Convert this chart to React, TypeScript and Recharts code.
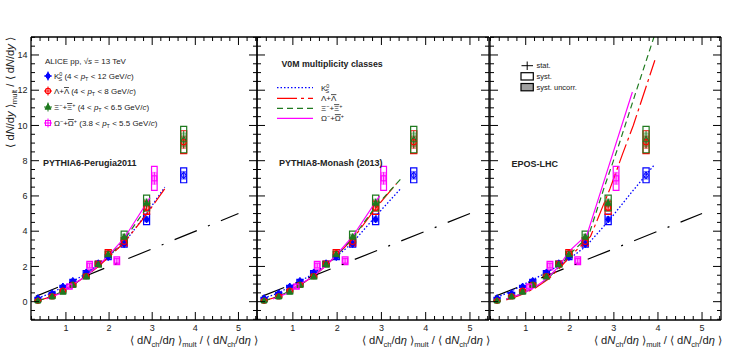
import React from 'react';
import {
  ComposedChart,
  Line,
  Scatter,
  XAxis,
  YAxis,
  ReferenceArea,
  ErrorBar,
} from 'recharts';

const FONT = '"Liberation Sans", Arial, Helvetica, sans-serif';

// ALICE data: V0M multiplicity classes (x = <dNch/deta>_mult / <dNch/deta>)
const mult = [0.35, 0.68, 0.93, 1.16, 1.47, 1.75, 1.98, 2.35, 2.87, 3.73];
const multOmega = [1.08, 1.55, 2.18, 3.05];

const k0sVal = [0.2, 0.48, 0.86, 1.18, 1.66, 2.18, 2.53, 3.27, 4.67, 7.17];
const k0sStat = [0.02, 0.02, 0.03, 0.03, 0.04, 0.05, 0.06, 0.08, 0.12, 0.2];
const k0sSys = [0.04, 0.05, 0.07, 0.08, 0.1, 0.12, 0.14, 0.17, 0.3, 0.42];
const k0sUnc = [0.02, 0.03, 0.04, 0.05, 0.06, 0.07, 0.08, 0.1, 0.15, 0.22];

const lamVal = [0.05, 0.3, 0.62, 0.95, 1.45, 2.15, 2.76, 3.4, 5.33, 9.05];
const lamStat = [0.02, 0.02, 0.03, 0.04, 0.05, 0.06, 0.08, 0.1, 0.18, 0.35];
const lamSys = [0.03, 0.05, 0.07, 0.08, 0.1, 0.15, 0.2, 0.23, 0.38, 0.65];
const lamUnc = [0.02, 0.03, 0.04, 0.05, 0.06, 0.08, 0.1, 0.12, 0.2, 0.35];

const xiVal = [0.05, 0.28, 0.55, 0.95, 1.42, 2.12, 2.68, 3.67, 5.6, 9.2];
const xiStat = [0.02, 0.03, 0.04, 0.05, 0.06, 0.08, 0.1, 0.15, 0.25, 0.5];
const xiSys = [0.05, 0.08, 0.1, 0.12, 0.13, 0.16, 0.18, 0.33, 0.45, 0.75];
const xiUnc = [0.03, 0.04, 0.05, 0.06, 0.07, 0.08, 0.09, 0.17, 0.22, 0.38];

const omVal = [0.86, 2.05, 2.32, 7.0];
const omStat = [0.08, 0.12, 0.15, 0.35];
const omSys = [0.13, 0.24, 0.22, 0.68];
const omUnc = [0.07, 0.12, 0.11, 0.34];

// y = x reference
const refX = [0.3, 5];
const refY = [0.3, 5];

// PYTHIA6-Perugia2011
const p6K0sX = [0.35, 0.68, 0.93, 1.16, 1.47, 1.75, 1.98, 2.35, 2.87, 3.29];
const p6K0sY = [0.2, 0.5, 0.85, 1.15, 1.6, 2.1, 2.55, 3.35, 5.0, 6.5];
const p6LamX = [0.35, 0.68, 0.93, 1.16, 1.47, 1.75, 1.98, 2.35, 2.87, 3.29];
const p6LamY = [0.05, 0.3, 0.6, 0.95, 1.45, 2.0, 2.5, 3.35, 4.95, 6.4];
const p6XiX = [0.35, 0.68, 0.93, 1.16, 1.47, 1.75, 1.98, 2.35, 2.95];
const p6XiY = [0.05, 0.3, 0.6, 0.95, 1.45, 2.05, 2.55, 3.5, 5.6];
const p6OmX = [0.55, 0.85, 1.08, 1.47, 1.75, 1.98, 2.35, 2.95];
const p6OmY = [0.15, 0.45, 0.85, 1.45, 2.05, 2.6, 3.6, 5.9];

// PYTHIA8-Monash (2013)
const p8K0sX = [0.35, 0.68, 0.93, 1.16, 1.47, 1.75, 1.98, 2.35, 2.87, 3.43];
const p8K0sY = [0.2, 0.5, 0.85, 1.15, 1.6, 2.1, 2.55, 3.35, 4.85, 6.4];
const p8LamX = [0.35, 0.68, 0.93, 1.16, 1.47, 1.75, 1.98, 2.35, 2.87, 3.34];
const p8LamY = [0.05, 0.3, 0.62, 0.95, 1.45, 2.05, 2.6, 3.55, 5.3, 6.7];
const p8XiX = [0.35, 0.68, 0.93, 1.16, 1.47, 1.75, 1.98, 2.35, 2.87, 3.45];
const p8XiY = [0.05, 0.3, 0.62, 0.95, 1.45, 2.05, 2.6, 3.6, 5.4, 7.0];
const p8OmX = [0.55, 0.85, 1.08, 1.47, 1.75, 1.98, 2.35, 2.96];
const p8OmY = [0.15, 0.45, 0.85, 1.45, 2.05, 2.65, 3.7, 6.0];

// EPOS-LHC
const epK0sX = [0.35, 0.68, 0.93, 1.16, 1.47, 1.75, 2.0, 2.37, 2.91, 3.4, 3.93];
const epK0sY = [0.25, 0.6, 0.95, 1.25, 1.65, 2.05, 2.45, 3.15, 4.67, 6.2, 7.8];
const epLamX = [0.56, 0.86, 1.2, 1.5, 1.75, 2.0, 2.47, 2.91, 3.2, 3.44, 3.93];
const epLamY = [0.1, 0.35, 0.75, 1.25, 1.85, 2.55, 3.7, 6.4, 8.4, 10.0, 13.7];
const epXiX = [0.56, 0.86, 1.2, 1.5, 1.75, 2.0, 2.42, 2.77, 3.1, 3.5, 3.92];
const epXiY = [0.15, 0.4, 0.8, 1.3, 1.95, 2.7, 3.7, 6.4, 8.8, 11.9, 15.1];
const epOmX = [0.56, 0.86, 1.2, 1.5, 1.75, 2.0, 2.39, 2.72, 3.0, 3.42];
const epOmY = [0.15, 0.4, 0.8, 1.35, 2.0, 2.9, 3.8, 6.4, 8.6, 11.9];

// axes
const xMajor = [1, 2, 3, 4, 5];
const yMajor = [0, 2, 4, 6, 8, 10, 12, 14];
const X_DOMAIN = [0.19, 5.43];
const Y_DOMAIN = [-1.04, 15.02];
const xTicks = Array.from({ length: 27 }, (_, i) => +(0.2 + i * 0.2).toFixed(1));
const yTicks = Array.from({ length: 33 }, (_, i) => -1 + i * 0.5);

const BLUE = '#0000ff';
const RED = '#ff0000';
const GREEN = '#1f7a1f';
const MAGENTA = '#ff00ff';

const pts = (xs: number[], ys: number[]) => xs.map((x, i) => ({ x, y: ys[i] }));

const isOn = (v: number, list: number[]) => list.some((m) => Math.abs(m - v) < 1e-6);

const species = [
  { name: 'k0s', xs: mult, val: k0sVal, stat: k0sStat, sys: k0sSys, unc: k0sUnc, color: BLUE, shape: 'diamond', hw: 0.07 },
  { name: 'lam', xs: mult, val: lamVal, stat: lamStat, sys: lamSys, unc: lamUnc, color: RED, shape: 'circle', hw: 0.07 },
  { name: 'xi', xs: mult, val: xiVal, stat: xiStat, sys: xiSys, unc: xiUnc, color: GREEN, shape: 'triangle', hw: 0.07 },
  { name: 'om', xs: multOmega, val: omVal, stat: omStat, sys: omSys, unc: omUnc, color: MAGENTA, shape: 'square', hw: 0.065 },
];

const lineStyles: Record<string, { color: string; dash?: string; w: number }> = {
  k0s: { color: BLUE, dash: '1.5 2', w: 1.3 },
  lam: { color: RED, dash: '20 4 3 4', w: 1.2 },
  xi: { color: GREEN, dash: '6 4', w: 1.2 },
  om: { color: MAGENTA, w: 1.2 },
};

const models = [
  {
    k0s: pts(p6K0sX, p6K0sY), lam: pts(p6LamX, p6LamY), xi: pts(p6XiX, p6XiY), om: pts(p6OmX, p6OmY),
  },
  {
    k0s: pts(p8K0sX, p8K0sY), lam: pts(p8LamX, p8LamY), xi: pts(p8XiX, p8XiY), om: pts(p8OmX, p8OmY),
  },
  {
    k0s: pts(epK0sX, epK0sY), lam: pts(epLamX, epLamY), xi: pts(epXiX, epXiY), om: pts(epOmX, epOmY),
  },
];

function markerEl(shape: string, color: string, cx: number, cy: number, open: boolean) {
  const f = open ? 'none' : color;
  if (shape === 'diamond')
    return <polygon points={`${cx},${cy - 3.5} ${cx + 2.5},${cy} ${cx},${cy + 3.5} ${cx - 2.5},${cy}`} fill={f} stroke={color} strokeWidth={1} />;
  if (shape === 'circle') return <circle cx={cx} cy={cy} r={2.6} fill="none" stroke={color} strokeWidth={1.1} />;
  if (shape === 'triangle')
    return <polygon points={`${cx},${cy - 3.4} ${cx + 3},${cy + 2.2} ${cx - 3},${cy + 2.2}`} fill={f} stroke={color} strokeWidth={1} />;
  return <rect x={cx - 2.5} y={cy - 2.5} width={5} height={5} fill="none" stroke={color} strokeWidth={1.1} />;
}

const makeShape = (shape: string, color: string) => (p: any) => {
  const { cx, cy, payload } = p;
  if (cx == null || cy == null) return <g />;
  return markerEl(shape, color, cx, cy, payload && payload.x > 3.5);
};

const tickFactory = (side: string, labels: boolean) => (p: any) => {
  const { x, y, payload } = p;
  const v = payload.value;
  const horiz = side === 'bottom' || side === 'top';
  const major = horiz ? isOn(v, xMajor) : isOn(v, yMajor);
  const len = major ? 8 : 4;
  let line;
  if (side === 'bottom') line = <line x1={x} x2={x} y1={y} y2={y - len} stroke="#000" />;
  else if (side === 'top') line = <line x1={x} x2={x} y1={y} y2={y + len} stroke="#000" />;
  else if (side === 'left') line = <line x1={x} x2={x + len} y1={y} y2={y} stroke="#000" />;
  else line = <line x1={x} x2={x - len} y1={y} y2={y} stroke="#000" />;
  return (
    <g>
      {line}
      {labels && major && side === 'bottom' && (
        <text x={x} y={y + 10.5} textAnchor="middle" fontSize={9} fontFamily={FONT} fill="#222">
          {v}
        </text>
      )}
      {labels && major && side === 'left' && (
        <text x={x - 3.5} y={y + 3.2} textAnchor="end" fontSize={9} fontFamily={FONT} fill="#222">
          {v}
        </text>
      )}
    </g>
  );
};

const axisLine = { stroke: '#000', strokeWidth: 1.3 };

// each chart: 1px axis band on every side, plot area framed by the four axes
function Panel({ left, width, mLeft, model, yLabels }: any) {
  return (
    <div style={{ position: 'absolute', left, top: 0 }}>
      <ComposedChart width={width} height={353} margin={{ top: 36, bottom: 32, left: mLeft, right: 0 }}>
        <XAxis xAxisId={0} type="number" dataKey="x" domain={X_DOMAIN} allowDataOverflow ticks={xTicks} interval={0}
          tickSize={0} tickMargin={0} height={1} axisLine={axisLine} tickLine={false} tick={tickFactory('bottom', true)} />
        <XAxis xAxisId="top" orientation="top" type="number" dataKey="x" domain={X_DOMAIN} allowDataOverflow ticks={xTicks}
          interval={0} tickSize={0} tickMargin={0} height={1} axisLine={axisLine} tickLine={false} tick={tickFactory('top', false)} />
        <YAxis yAxisId={0} type="number" dataKey="y" domain={Y_DOMAIN} allowDataOverflow ticks={yTicks} interval={0}
          tickSize={0} tickMargin={0} width={1} axisLine={axisLine} tickLine={false} tick={tickFactory('left', yLabels)} />
        <YAxis yAxisId="right" orientation="right" type="number" dataKey="y" domain={Y_DOMAIN} allowDataOverflow ticks={yTicks}
          interval={0} tickSize={0} tickMargin={0} width={1} axisLine={axisLine} tickLine={false} tick={tickFactory('right', false)} />

        {species.map((s) =>
          s.xs.map((x, i) => (
            <ReferenceArea key={`u-${s.name}-${i}`} x1={x - s.hw * 0.75} x2={x + s.hw * 0.75} y1={s.val[i] - s.unc[i]}
              y2={s.val[i] + s.unc[i]} fill={s.color} fillOpacity={0.3} stroke={s.color} strokeOpacity={0.5}
              strokeWidth={0.8} ifOverflow="visible" />
          ))
        )}
        {species.map((s) =>
          s.xs.map((x, i) => (
            <ReferenceArea key={`s-${s.name}-${i}`} x1={x - s.hw} x2={x + s.hw} y1={s.val[i] - s.sys[i]}
              y2={s.val[i] + s.sys[i]} fill="none" stroke={s.color} strokeWidth={1.2} ifOverflow="visible" />
          ))
        )}

        <Line data={pts(refX, refY)} dataKey="y" type="linear" stroke="#000" strokeWidth={1.2}
          strokeDasharray="24 12 2 12" dot={false} activeDot={false} isAnimationActive={false} />
        {['k0s', 'lam', 'xi', 'om'].map((k) => (
          <Line key={k} data={model[k]} dataKey="y" type="linear" stroke={lineStyles[k].color}
            strokeWidth={lineStyles[k].w} strokeDasharray={lineStyles[k].dash} dot={false} activeDot={false}
            isAnimationActive={false} />
        ))}

        {species.map((s) => (
          <Scatter key={s.name} data={s.xs.map((x, i) => ({ x, y: s.val[i], stat: s.stat[i] }))} dataKey="y"
            shape={makeShape(s.shape, s.color)} isAnimationActive={false}>
            <ErrorBar dataKey="stat" direction="y" width={0} stroke={s.color} strokeWidth={1} />
          </Scatter>
        ))}
      </ComposedChart>
    </div>
  );
}

type Part = [string, string?, number?];

function rich(parts: Part[], fs: number) {
  let off = 0;
  return parts.map(([t, k = '', dx], i) => {
    const target = k.includes('sub') ? fs * 0.3 : k.includes('sup') ? -fs * 0.4 : 0;
    const dy = target - off;
    off = target;
    const small = k.includes('sub') || k.includes('sup');
    return (
      <tspan key={i} dx={dx} dy={dy || undefined} fontSize={small ? fs * 0.68 : undefined}
        fontStyle={k.includes('it') ? 'italic' : undefined}
        style={k.includes('bar') ? { textDecoration: 'overline' } : undefined}>
        {t}
      </tspan>
    );
  });
}

const xTitle: Part[] = [
  ['\u27e8 d'], ['N', 'it'], ['ch', 'sub'], ['/d'], ['\u03b7', 'it'], [' \u27e9'], ['mult', 'sub'],
  [' / \u27e8 d'], ['N', 'it'], ['ch', 'sub'], ['/d'], ['\u03b7', 'it'], [' \u27e9'],
];
const yTitle: Part[] = [
  ['\u27e8 d'], ['N', 'it'], ['/d'], ['y', 'it'], [' \u27e9'], ['mult', 'sub'], [' / \u27e8 d'], ['N', 'it'], ['/d'], ['y', 'it'], [' \u27e9'],
];

const pt = (lo: string, hi: string, pad = ' '): Part[] => [
  [`${pad}(${lo} < `], ['p', 'it'], ['T', 'sub'], [` < ${hi} GeV/`], ['c', 'it'], [')'],
];

const k0sLabel: Part[] = [['K'], ['0', 'sup'], ['S', 'sub', -3.8]];
const lamLabel: Part[] = [['\u039b+'], ['\u039b', 'bar']];
const xiLabel: Part[] = [['\u039e'], ['\u2212', 'sup'], ['+'], ['\u039e', 'bar'], ['+', 'sup']];
const omLabel: Part[] = [['\u03a9'], ['\u2212', 'sup'], ['+'], ['\u03a9', 'bar'], ['+', 'sup']];

function LegendMarker({ shape, color, x, y }: any) {
  return (
    <g>
      <line x1={x - 4} x2={x + 4} y1={y} y2={y} stroke={color} strokeWidth={1} />
      <line x1={x} x2={x} y1={y - 4.5} y2={y + 4.5} stroke={color} strokeWidth={1} />
      {markerEl(shape, color, x, y, false)}
    </g>
  );
}

function Overlay() {
  const fsL = 8;
  const fsT = 11.2;
  const rows = [
    { y: 76, shape: 'diamond', color: BLUE, parts: [...k0sLabel, ...pt('4', '12')] },
    { y: 91, shape: 'circle', color: RED, parts: [...lamLabel, ...pt('4', '8')] },
    { y: 107, shape: 'triangle', color: GREEN, parts: [...xiLabel, ...pt('4', '6.5')] },
    { y: 123, shape: 'square', color: MAGENTA, parts: [...omLabel, ...pt('3.8', '5.5', '   ')] },
  ];
  const midRows = [
    { y: 87.7, k: 'k0s', parts: k0sLabel },
    { y: 98.3, k: 'lam', parts: lamLabel },
    { y: 108.3, k: 'xi', parts: xiLabel },
    { y: 118.3, k: 'om', parts: omLabel },
  ];
  return (
    <svg width={747} height={353} style={{ position: 'absolute', left: 0, top: 0, pointerEvents: 'none' }}
      fontFamily={FONT} fill="#222">
      <text transform="translate(13.5,37) rotate(-90)" textAnchor="end" fontSize={fsT}>
        {rich(yTitle, fsT)}
      </text>
      {[258, 490, 722].map((xr) => (
        <text key={xr} x={xr} y={344} textAnchor="end" fontSize={fsT}>
          {rich(xTitle, fsT)}
        </text>
      ))}

      <text x={45} y={63.5} fontSize={fsL}>
        {rich([['ALICE pp, \u221a'], ['s', 'it'], [' = 13 TeV']], fsL)}
      </text>
      {rows.map((r, i) => (
        <g key={i}>
          <LegendMarker shape={r.shape} color={r.color} x={48} y={r.y} />
          <text x={54} y={r.y + 3} fontSize={fsL}>
            {rich(r.parts, fsL)}
          </text>
        </g>
      ))}
      <text x={43} y={166} fontSize={9} fontWeight="bold">PYTHIA6-Perugia2011</text>

      <text x={281.5} y={66.5} fontSize={8.8} fontWeight="bold">V0M multiplicity classes</text>
      {midRows.map((r) => (
        <g key={r.k}>
          <line x1={277} x2={313} y1={r.y} y2={r.y} stroke={lineStyles[r.k].color} strokeWidth={lineStyles[r.k].w}
            strokeDasharray={lineStyles[r.k].dash} />
          <text x={321} y={r.y + 3} fontSize={fsL}>
            {rich(r.parts, fsL)}
          </text>
        </g>
      ))}
      <text x={279} y={165.5} fontSize={9} fontWeight="bold">PYTHIA8-Monash (2013)</text>

      <line x1={521.5} x2={533} y1={65.7} y2={65.7} stroke="#000" />
      <line x1={527.2} x2={527.2} y1={61.5} y2={70} stroke="#000" />
      <text x={536.5} y={68.3} fontSize={7.5}>stat.</text>
      <rect x={521} y={72.7} width={12.3} height={7.3} fill="#fff" stroke="#000" strokeWidth={1.2} />
      <text x={536.5} y={79.3} fontSize={7.5}>syst.</text>
      <rect x={521} y={83.5} width={12.3} height={7.3} fill="#a0a0a0" stroke="#000" strokeWidth={1.2} />
      <text x={536.5} y={90} fontSize={7.5}>syst. uncorr.</text>
      <text x={511.5} y={166.5} fontSize={9} fontWeight="bold">EPOS-LHC</text>
    </svg>
  );
}

export default function App() {
  return (
    <div style={{ position: 'absolute', left: 0, top: 0, width: 747, height: 353, background: '#fff' }}>
      <Panel left={0} width={258} mLeft={30} model={models[0]} yLabels />
      <Panel left={256} width={234} mLeft={0} model={models[1]} yLabels={false} />
      <Panel left={489} width={233} mLeft={0} model={models[2]} yLabels={false} />
      <Overlay />
    </div>
  );
}
